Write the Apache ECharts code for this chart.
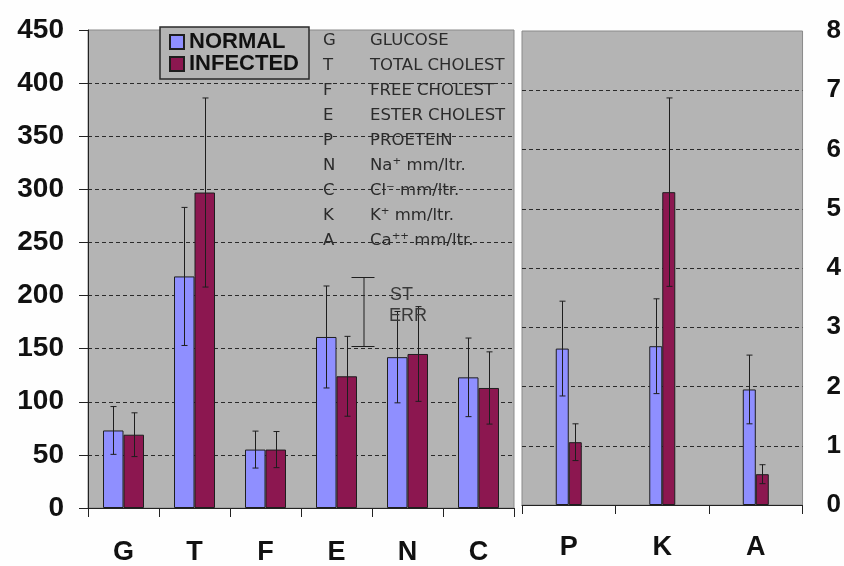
<!DOCTYPE html>
<html>
<head>
<meta charset="utf-8">
<script src="https://cdn.jsdelivr.net/npm/echarts@6/dist/echarts.min.js"></script>
<style>
html,body{margin:0;padding:0;background:#fefefe;}
#chart{width:844px;height:566px;}
</style>
</head>
<body>
<div id="chart"></div>
<script>
// ---- data ----
var leftCategories = ['G', 'T', 'F', 'E', 'N', 'C'];
var leftNormal = [73, 218, 55, 161, 142, 123];
var leftNormalErr = [22.5, 65, 17.4, 48, 43, 37];
var leftInfected = [69, 297, 55, 124, 145, 113];
var leftInfectedErr = [20.6, 89, 17, 37.6, 44.6, 34];

var rightCategories = ['P', 'K', 'A'];
var rightNormal = [2.64, 2.68, 1.95];
var rightNormalErr = [0.8, 0.8, 0.58];
var rightInfected = [1.06, 5.28, 0.52];
var rightInfectedErr = [0.31, 1.59, 0.16];

var leftTicks = {min: 0, max: 450, interval: 50};
var rightTicks = {min: 0, max: 8, interval: 1};

var seriesNames = ['NORMAL', 'INFECTED'];
var abbrevKeys = ['G', 'T', 'F', 'E', 'P', 'N', 'C', 'K', 'A'];
var abbrevNames = ['GLUCOSE', 'TOTAL CHOLEST', 'FREE CHOLEST', 'ESTER CHOLEST', 'PROETEIN',
  'Na\u207A mm/ltr.', 'Cl\u207B mm/ltr.', 'K\u207A mm/ltr.', 'Ca\u207A\u207A mm/ltr.'];
var stErrLabel = ['ST', 'ERR'];

// ---- styles ----
var cNormal = '#8f8fff', cInfected = '#8c1750', cPlot = '#b4b4b4';
var font = "'Liberation Sans', Arial, sans-serif";
var leftBarW = 20.5, rightBarW = 13;

function errData(vals, errs) {
  return vals.map(function (v, i) { return [i, v - errs[i], v + errs[i]]; });
}
function errRender(offset, capHalf) {
  return function (params, api) {
    var x = api.value(0);
    var pHi = api.coord([x, api.value(2)]);
    var pLo = api.coord([x, api.value(1)]);
    var cx = Math.round(pHi[0] + offset) + 0.5;
    var st = {stroke: '#1e1e1e', lineWidth: 1};
    return {type: 'group', children: [
      {type: 'line', shape: {x1: cx, y1: pHi[1], x2: cx, y2: pLo[1]}, style: st},
      {type: 'line', shape: {x1: cx - capHalf, y1: pHi[1], x2: cx + capHalf, y2: pHi[1]}, style: st},
      {type: 'line', shape: {x1: cx - capHalf, y1: pLo[1], x2: cx + capHalf, y2: pLo[1]}, style: st}
    ]};
  };
}

var barStyle = function (c) { return {color: c, borderColor: '#1e1e1e', borderWidth: 1}; };

var listFont = "16.5px 'DejaVu Sans', sans-serif";
var graphics = [];
abbrevKeys.forEach(function (k, i) {
  graphics.push({type: 'text', left: 323, top: 32 + i * 25, z: 50,
    style: {text: k, fill: '#2b2b2b', font: listFont}});
  graphics.push({type: 'text', left: 370, top: 32 + i * 25, z: 50,
    style: {text: abbrevNames[i], fill: '#2b2b2b', font: listFont}});
});
// ST ERR sample
graphics.push({type: 'group', left: 349, top: 275, z: 50, children: [
  {type: 'line', shape: {x1: 12.5, y1: 0.5, x2: 12.5, y2: 69.5}, style: {stroke: '#1e1e1e', lineWidth: 1}},
  {type: 'line', shape: {x1: 0, y1: 0.5, x2: 23, y2: 0.5}, style: {stroke: '#1e1e1e', lineWidth: 1}},
  {type: 'line', shape: {x1: 0, y1: 69.5, x2: 23, y2: 69.5}, style: {stroke: '#1e1e1e', lineWidth: 1}}
]});
graphics.push({type: 'text', left: 390, top: 286, z: 50,
  style: {text: stErrLabel[0], fill: '#3a3a3a', font: "18px " + font}});
graphics.push({type: 'text', left: 389, top: 307, z: 50,
  style: {text: stErrLabel[1], fill: '#3a3a3a', font: "18px " + font}});

var chart = echarts.init(document.getElementById('chart'));
chart.setOption({
  backgroundColor: '#fefefe',
  animation: false,
  legend: {
    data: seriesNames, orient: 'vertical', left: 160, top: 27,
    padding: [4, 10, 4, 9], itemGap: 0, itemWidth: 14, itemHeight: 14,
    backgroundColor: cPlot, borderColor: '#2a2a2a', borderWidth: 1.5,
    icon: 'rect',
    textStyle: {fontFamily: font, fontWeight: 'bold', fontSize: 22, lineHeight: 22, color: '#111'}
  },
  graphic: graphics,
  grid: [
    {left: 88, top: 30, width: 426, height: 479, show: true, backgroundColor: cPlot, borderColor: '#8a8a8a', borderWidth: 1},
    {left: 522, top: 31, width: 283, height: 474, show: true, backgroundColor: cPlot, borderColor: '#8a8a8a', borderWidth: 1}
  ],
  xAxis: [
    {type: 'category', gridIndex: 0, data: leftCategories,
      axisLine: {lineStyle: {color: '#222', width: 1}},
      axisTick: {show: true, length: 9, lineStyle: {color: '#222'}},
      axisLabel: {margin: 31, fontFamily: font, fontWeight: 'bold', fontSize: 27, color: '#111'}},
    {type: 'category', gridIndex: 1, data: rightCategories,
      axisLine: {lineStyle: {color: '#222', width: 1}},
      axisTick: {show: true, length: 9, lineStyle: {color: '#222'}},
      axisLabel: {margin: 29, fontFamily: font, fontWeight: 'bold', fontSize: 27, color: '#111'}}
  ],
  yAxis: [
    {type: 'value', gridIndex: 0, min: leftTicks.min, max: leftTicks.max, interval: leftTicks.interval,
      axisLine: {show: true, lineStyle: {color: '#222'}},
      axisTick: {show: true, length: 9, lineStyle: {color: '#222'}},
      axisLabel: {margin: 24, fontFamily: font, fontWeight: 'bold', fontSize: 28, color: '#111'},
      splitLine: {show: true, showMinLine: false, showMaxLine: false, lineStyle: {type: [4, 3], color: '#2a2a2a', width: 1}}},
    {type: 'value', gridIndex: 1, position: 'right', min: rightTicks.min, max: rightTicks.max, interval: rightTicks.interval,
      axisLine: {show: false}, axisTick: {show: false},
      axisLabel: {margin: 24, fontFamily: font, fontWeight: 'bold', fontSize: 26, color: '#111'},
      splitLine: {show: true, showMinLine: false, showMaxLine: false, lineStyle: {type: [4, 3], color: '#2a2a2a', width: 1}}}
  ],
  series: [
    {name: seriesNames[0], type: 'bar', xAxisIndex: 0, yAxisIndex: 0, data: leftNormal, barWidth: leftBarW, barGap: '0%', itemStyle: barStyle(cNormal)},
    {name: seriesNames[1], type: 'bar', xAxisIndex: 0, yAxisIndex: 0, data: leftInfected, barWidth: leftBarW, barGap: '0%', itemStyle: barStyle(cInfected)},
    {name: seriesNames[0], type: 'bar', xAxisIndex: 1, yAxisIndex: 1, data: rightNormal, barWidth: rightBarW, barGap: '0%', itemStyle: barStyle(cNormal)},
    {name: seriesNames[1], type: 'bar', xAxisIndex: 1, yAxisIndex: 1, data: rightInfected, barWidth: rightBarW, barGap: '0%', itemStyle: barStyle(cInfected)},
    {type: 'custom', xAxisIndex: 0, yAxisIndex: 0, z: 10, renderItem: errRender(-leftBarW / 2, 3), data: errData(leftNormal, leftNormalErr)},
    {type: 'custom', xAxisIndex: 0, yAxisIndex: 0, z: 10, renderItem: errRender(leftBarW / 2, 3), data: errData(leftInfected, leftInfectedErr)},
    {type: 'custom', xAxisIndex: 1, yAxisIndex: 1, z: 10, renderItem: errRender(-rightBarW / 2, 3), data: errData(rightNormal, rightNormalErr)},
    {type: 'custom', xAxisIndex: 1, yAxisIndex: 1, z: 10, renderItem: errRender(rightBarW / 2, 3), data: errData(rightInfected, rightInfectedErr)}
  ]
});
</script>
</body>
</html>
